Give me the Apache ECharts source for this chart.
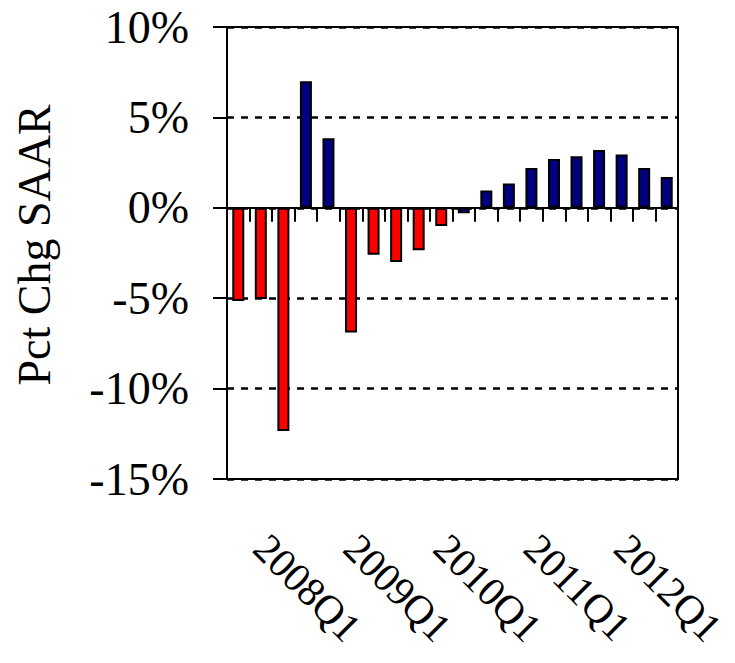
<!DOCTYPE html>
<html>
<head>
<meta charset="utf-8">
<script src="https://cdn.jsdelivr.net/npm/echarts@6/dist/echarts.min.js"></script>
<style>
html,body{margin:0;padding:0;background:#fff;}
#chart{width:735px;height:663px;}
</style>
</head>
<body>
<div id="chart"></div>
<script>
const categories = ['2007Q4','2008Q1','2008Q2','2008Q3','2008Q4','2009Q1','2009Q2','2009Q3','2009Q4','2010Q1',
                    '2010Q2','2010Q3','2010Q4','2011Q1','2011Q2','2011Q3','2011Q4','2012Q1','2012Q2','2012Q3'];
const values = [-5.15, -5.05, -12.35, 7.0, 3.85, -6.9, -2.6, -3.0, -2.35, -1.0,
                -0.3, 0.95, 1.35, 2.2, 2.7, 2.85, 3.2, 2.95, 2.2, 1.7];
const yMin = -15, yMax = 10, yStep = 5;
const axisTitle = 'Pct Chg SAAR';

const FONT = 'Liberation Serif, Times New Roman, serif';
const chart = echarts.init(document.getElementById('chart'), null, {renderer: 'svg'});
chart.setOption({
  animation: false,
  backgroundColor: '#fff',
  grid: {left: 227, right: 57, top: 27, bottom: 184, outerBoundsMode: 'none', containLabel: false,
         show: true, borderColor: '#000', borderWidth: 2, backgroundColor: 'transparent'},
  xAxis: [
    {
      type: 'category', data: categories, position: 'top',
      axisLine: {onZero: true, lineStyle: {color: '#000', width: 2}},
      axisTick: {show: true, inside: true, length: 14, interval: 0, lineStyle: {color: '#000', width: 2}},
      axisLabel: {show: false},
      splitLine: {show: false}
    },
    {
      type: 'category', data: categories, position: 'bottom',
      axisLine: {show: false, onZero: false},
      axisTick: {show: false},
      axisLabel: {
        show: true, rotate: -45, margin: 62,
        interval: (i) => i % 4 === 1,
        fontFamily: FONT, fontSize: 41, color: '#000'
      },
      splitLine: {show: false}
    }
  ],
  yAxis: {
    type: 'value', min: yMin, max: yMax, interval: yStep,
    axisLine: {show: true, lineStyle: {color: '#000', width: 2}},
    axisTick: {show: true, length: 14, lineStyle: {color: '#000', width: 2}},
    axisLabel: {formatter: '{value}%', margin: 38, fontFamily: FONT, fontSize: 46, color: '#000'},
    splitLine: {show: true, lineStyle: {color: '#000', width: 2.5, type: [7, 7]}}
  },
  graphic: [{
    type: 'text', x: 34, y: 245, rotation: Math.PI / 2,
    style: {text: axisTitle, fontFamily: FONT, fontSize: 46, fill: '#000', align: 'center', verticalAlign: 'middle'}
  }],
  series: [{
    type: 'bar', xAxisIndex: 0, data: values, barWidth: 12,
    itemStyle: {
      borderColor: '#000', borderWidth: 2,
      color: (p) => p.value < -0.5 ? '#FF0000' : '#000080'
    }
  }]
});
</script>
</body>
</html>
